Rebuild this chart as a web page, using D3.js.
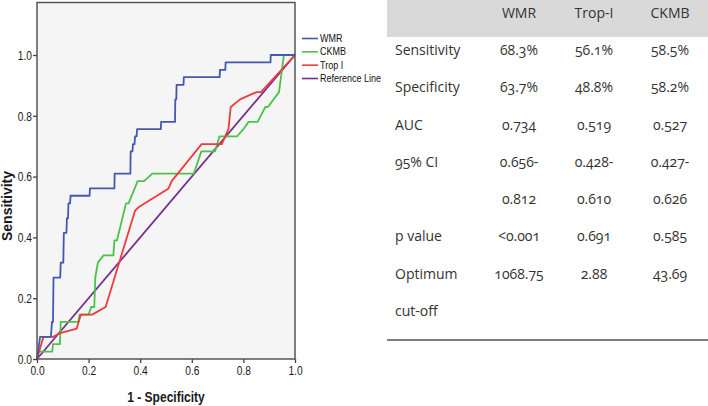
<!DOCTYPE html>
<html>
<head>
<meta charset="utf-8">
<script src="https://cdn.jsdelivr.net/npm/d3@7"></script>
<style>
  html, body { margin: 0; padding: 0; background: #fff; }
  svg { display: block; }
  .tbl { font-family: "Open Sans", "Lato", sans-serif; font-size: 14px; fill: #333; font-variant-numeric: oldstyle-nums; font-feature-settings: "onum" 1; }
</style>
</head>
<body>
<svg id="chart" width="708" height="406"></svg>
<script>
// ---------------- data ----------------
const seriesNames = ["WMR", "CKMB", "Trop I", "Reference Line"];
const seriesColors = ["#4458b0", "#4cc24a", "#ee3b3b", "#77308f"];

const wmrPoints = [[0,0],[0.012,0.073],[0.054,0.073],[0.058,0.122],[0.062,0.122],[0.064,0.268],[0.09,0.268],[0.092,0.317],[0.102,0.317],[0.104,0.415],[0.114,0.415],[0.116,0.463],[0.12,0.463],[0.122,0.512],[0.128,0.512],[0.13,0.537],[0.204,0.537],[0.205,0.561],[0.3,0.561],[0.301,0.61],[0.362,0.61],[0.363,0.683],[0.37,0.683],[0.372,0.707],[0.378,0.707],[0.38,0.732],[0.386,0.732],[0.388,0.756],[0.48,0.756],[0.481,0.78],[0.535,0.78],[0.536,0.854],[0.54,0.854],[0.541,0.902],[0.568,0.902],[0.569,0.927],[0.708,0.927],[0.709,0.951],[0.73,0.951],[0.731,0.976],[0.905,0.976],[0.906,1],[1,1]];

const ckmbPoints = [[0,0],[0.005,0.024],[0.059,0.024],[0.062,0.049],[0.089,0.049],[0.092,0.122],[0.16,0.122],[0.165,0.146],[0.2,0.146],[0.21,0.171],[0.222,0.171],[0.226,0.268],[0.236,0.317],[0.258,0.341],[0.296,0.341],[0.3,0.39],[0.31,0.39],[0.338,0.488],[0.345,0.512],[0.355,0.512],[0.39,0.585],[0.415,0.585],[0.447,0.61],[0.608,0.61],[0.637,0.683],[0.69,0.683],[0.707,0.732],[0.775,0.732],[0.8,0.756],[0.82,0.78],[0.855,0.78],[0.885,0.829],[0.895,0.829],[0.938,0.878],[0.957,1],[1,1]];

const tropPoints = [[0,0],[0.025,0.073],[0.063,0.073],[0.089,0.085],[0.154,0.1],[0.17,0.146],[0.214,0.146],[0.266,0.171],[0.38,0.488],[0.395,0.5],[0.51,0.561],[0.522,0.585],[0.638,0.707],[0.716,0.707],[0.742,0.756],[0.751,0.829],[0.787,0.854],[0.851,0.878],[0.868,0.878],[1,1]];

const refPoints = [[0,0],[1,1]];

const xTicks = [0, 0.2, 0.4, 0.6, 0.8, 1.0];
const yTicks = [0, 0.2, 0.4, 0.6, 0.8, 1.0];
const xTitle = "1 - Specificity";
const yTitle = "Sensitivity";

const tableHeader = ["", "WMR", "Trop-I", "CKMB"];
const rowLabels = ["Sensitivity", "Specificity", "AUC", "95% CI", "", "p value", "Optimum", "cut-off"];
const wmrValues  = ["68.3%", "63.7%", "0.734", "0.656-", "0.812", "<0.001", "1068.75", ""];
const tropValues = ["56.1%", "48.8%", "0.519", "0.428-", "0.610", "0.691", "2.88", ""];
const ckmbValues = ["58.5%", "58.2%", "0.527", "0.427-", "0.626", "0.585", "43.69", ""];

// ---------------- chart ----------------
const svg = d3.select("#chart");
const x = d3.scaleLinear().domain([0, 1]).range([37, 295]);
const y = d3.scaleLinear().domain([0, 1]).range([359, 55]);
const yTop = 2.5;

svg.append("rect")
  .attr("x", x(0)).attr("y", yTop)
  .attr("width", x(1) - x(0)).attr("height", y(0) - yTop)
  .attr("fill", "#f5f5f5");

const line = d3.line().x(d => x(d[0])).y(d => y(d[1]));
const allSeries = [wmrPoints, ckmbPoints, tropPoints, refPoints];
[3, 1, 2, 0].forEach(i => {
  svg.append("path")
    .datum(allSeries[i])
    .attr("d", line)
    .attr("fill", "none")
    .attr("stroke", seriesColors[i])
    .attr("stroke-width", 1.8)
    .attr("stroke-linejoin", "round");
});

// frame
svg.append("rect")
  .attr("x", x(0)).attr("y", yTop)
  .attr("width", x(1) - x(0)).attr("height", y(0) - yTop)
  .attr("fill", "none").attr("stroke", "#555").attr("stroke-width", 1.5);

// axes
const xAxis = d3.axisBottom(x).tickValues(xTicks).tickFormat(d3.format(".1f")).tickSize(4).tickSizeOuter(0);
const yAxis = d3.axisLeft(y).tickValues(yTicks).tickFormat(d3.format(".1f")).tickSize(4).tickSizeOuter(0);

const gx = svg.append("g").attr("transform", `translate(0,${y(0)})`).call(xAxis);
const gy = svg.append("g").attr("transform", `translate(${x(0)},0)`).call(yAxis);
[gx, gy].forEach(g => {
  g.select(".domain").remove();
  g.selectAll(".tick line").attr("stroke", "#444").attr("stroke-width", 1.3);
  g.selectAll(".tick text")
    .attr("font-family", "Liberation Sans, Arial, sans-serif")
    .attr("font-size", "12px")
    .attr("fill", "#1a1a1a");
});
gx.selectAll(".tick text").attr("dy", null).attr("y", 16).attr("x", 0)
  .attr("transform", "scale(0.85,1)");
gy.selectAll(".tick text").attr("dy", "0.35em").attr("x", 0)
  .attr("transform", "translate(-5,0) scale(0.85,1)");

// axis titles
svg.append("text")
  .attr("transform", `translate(166,402) scale(0.86,1)`)
  .attr("text-anchor", "middle")
  .attr("font-family", "Liberation Sans, Arial, sans-serif")
  .attr("font-weight", "bold").attr("font-size", "14px").attr("fill", "#1a1a1a")
  .text(xTitle);
svg.append("text")
  .attr("transform", `translate(12,206) rotate(-90)`)
  .attr("text-anchor", "middle")
  .attr("font-family", "Liberation Sans, Arial, sans-serif")
  .attr("font-weight", "bold").attr("font-size", "14px").attr("fill", "#1a1a1a")
  .text(yTitle);

// legend
const legendY = d3.scalePoint().domain(seriesNames).range([38.5, 78.5]);
seriesNames.forEach((name, i) => {
  const ly = legendY(name);
  svg.append("line").attr("x1", 302).attr("x2", 318).attr("y1", ly).attr("y2", ly)
    .attr("stroke", seriesColors[i]).attr("stroke-width", 1.6);
  svg.append("text")
    .attr("transform", `translate(320,${ly + 3.6}) scale(0.9,1)`)
    .attr("font-family", "Liberation Sans, Arial, sans-serif")
    .attr("font-size", "10px").attr("fill", "#111")
    .text(name);
});

// ---------------- table ----------------
svg.append("rect").attr("x", 387).attr("y", 0).attr("width", 708 - 387).attr("height", 37)
  .attr("fill", "#d9d9d9");
svg.append("line").attr("x1", 387).attr("x2", 708).attr("y1", 340).attr("y2", 340)
  .attr("stroke", "#555").attr("stroke-width", 1.5);

const colX = [395, 519, 594, 670];
const tg = svg.append("g").attr("class", "tbl");
tableHeader.forEach((h, j) => {
  if (!h) return;
  tg.append("text").attr("x", colX[j]).attr("y", 18).attr("text-anchor", "middle").text(h);
});
const rowY = d3.scaleLinear().domain([0, 7]).range([55, 316]);
const cols = [rowLabels, wmrValues, tropValues, ckmbValues];
rowLabels.forEach((_, i) => {
  cols.forEach((col, j) => {
    const v = col[i];
    if (!v) return;
    tg.append("text")
      .attr("x", colX[j]).attr("y", rowY(i))
      .attr("text-anchor", j === 0 ? "start" : "middle")
      .text(v);
  });
});
</script>
</body>
</html>
